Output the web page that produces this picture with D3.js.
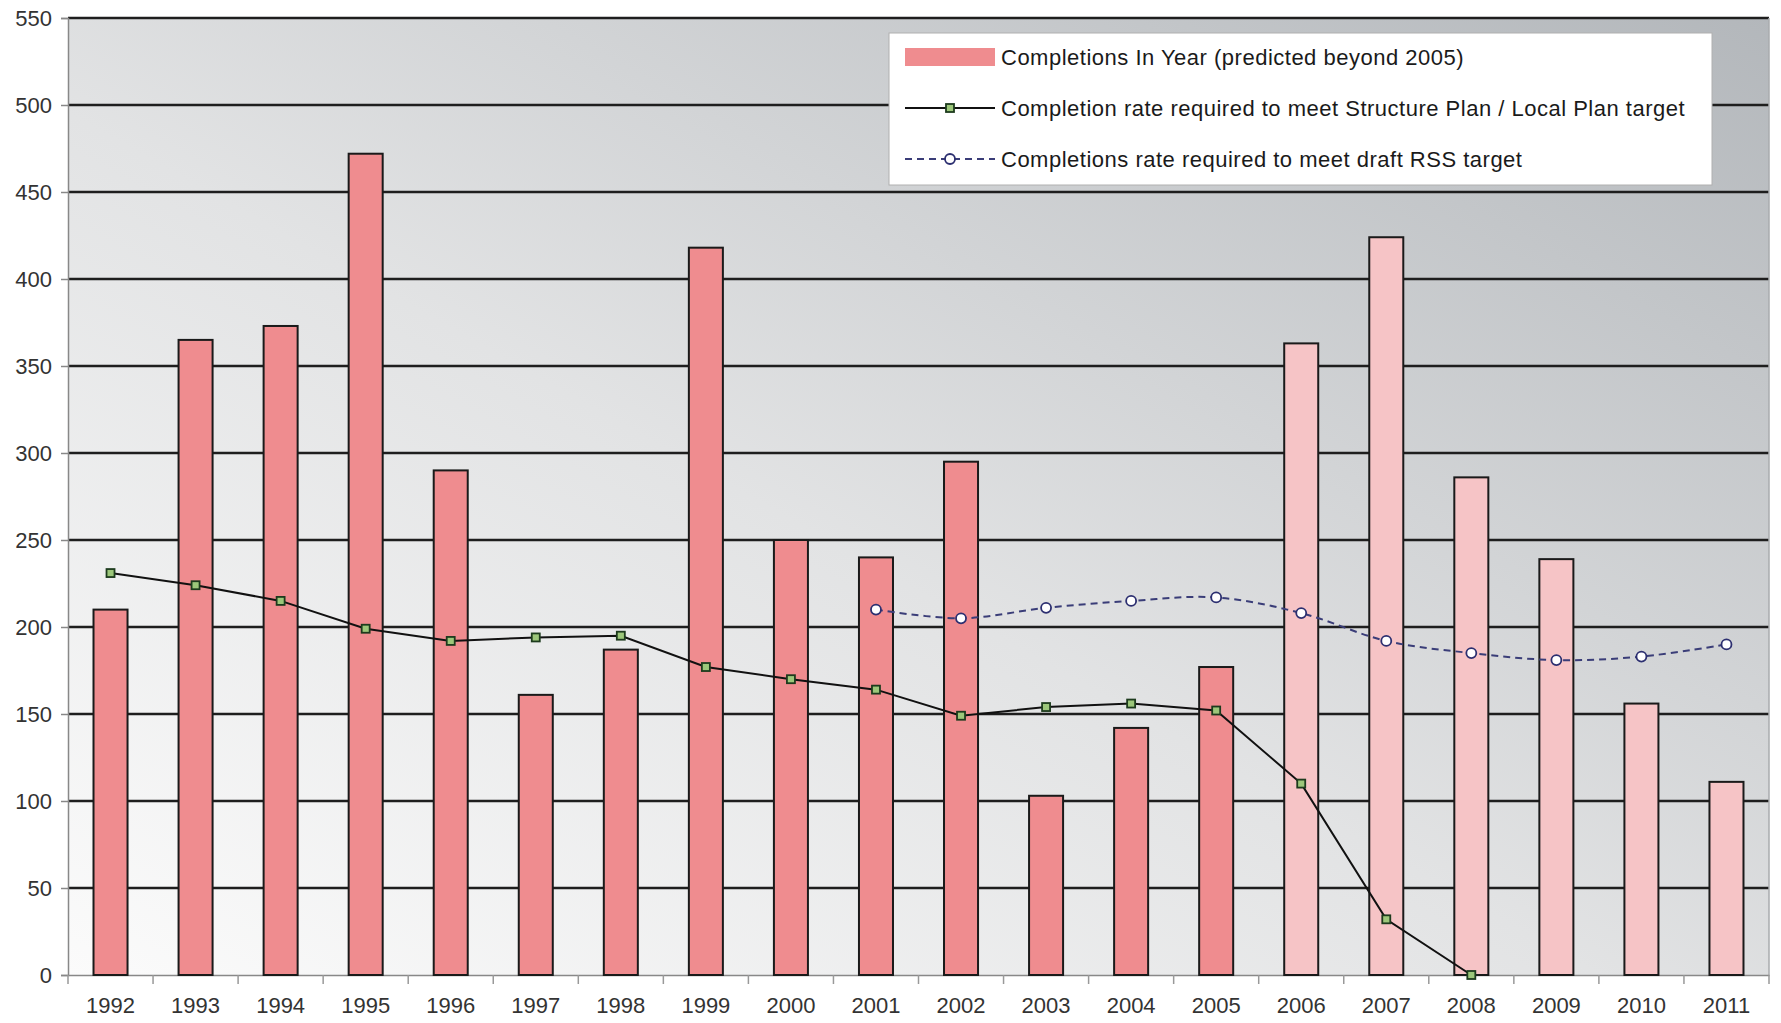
<!DOCTYPE html>
<html>
<head>
<meta charset="utf-8">
<script src="https://cdn.jsdelivr.net/npm/d3@7"></script>
<style>
  body { margin: 0; background: #ffffff; }
  text { font-family: "Liberation Sans", Arial, sans-serif; }
</style>
</head>
<body>
<div id="chart"></div>
<script>
// years on the x axis
let years = ["1992", "1993", "1994", "1995", "1996", "1997", "1998", "1999", "2000", "2001",
  "2002", "2003", "2004", "2005", "2006", "2007", "2008", "2009", "2010", "2011"];

// completions in year (predicted beyond 2005)
let completions = [210, 365, 373, 472, 290, 161, 187, 418, 250, 240,
  295, 103, 142, 177, 363, 424, 286, 239, 156, 111];

// completion rate required to meet structure plan / local plan target
let planYears = ["1992", "1993", "1994", "1995", "1996", "1997", "1998", "1999", "2000",
  "2001", "2002", "2003", "2004", "2005", "2006", "2007", "2008"];
let planRate = [231, 224, 215, 199, 192, 194, 195, 177, 170, 164, 149, 154, 156, 152, 110, 32, 0];

// completions rate required to meet draft rss target
let rssYears = ["2001", "2002", "2003", "2004", "2005", "2006", "2007", "2008", "2009", "2010", "2011"];
let rssRate = [210, 205, 211, 215, 217, 208, 192, 185, 181, 183, 190];

let yTicks = [0, 50, 100, 150, 200, 250, 300, 350, 400, 450, 500, 550];

let legendLabels = [
  "Completions In Year (predicted beyond 2005)",
  "Completion rate required to meet Structure Plan / Local Plan target",
  "Completions rate required to meet draft RSS target"
];

// chart dimensions
let svgWidth = 1781;
let svgHeight = 1023;
let margin = { top: 18, right: 12, bottom: 48, left: 68 };
let chartWidth = svgWidth - margin.left - margin.right;
let chartHeight = svgHeight - margin.top - margin.bottom;

let xScale = d3.scaleBand()
  .domain(years)
  .range([0, chartWidth])
  .paddingInner(0.6)
  .paddingOuter(0.3);

let xBand = d3.scaleBand()
  .domain(years)
  .range([0, chartWidth]);

let yScale = d3.scaleLinear()
  .domain([0, 550])
  .range([chartHeight, 0]);

let svg = d3.select("#chart").append("svg")
  .attr("width", svgWidth)
  .attr("height", svgHeight);

// background gradient
let defs = svg.append("defs");
let grad = defs.append("linearGradient")
  .attr("id", "bg")
  .attr("x1", 0).attr("y1", 1)
  .attr("x2", 1).attr("y2", 0);
grad.append("stop").attr("offset", "0%").attr("stop-color", "#fbfbfb");
grad.append("stop").attr("offset", "45%").attr("stop-color", "#e2e3e4");
grad.append("stop").attr("offset", "100%").attr("stop-color", "#b3b7bb");

let chartGroup = svg.append("g")
  .attr("transform", "translate(" + margin.left + "," + margin.top + ")");

chartGroup.append("rect")
  .attr("width", chartWidth)
  .attr("height", chartHeight)
  .attr("fill", "url(#bg)");

// gridlines
chartGroup.selectAll("line.grid")
  .data(yTicks.filter(function(d) { return d > 0; }))
  .enter()
  .append("line")
  .attr("class", "grid")
  .attr("x1", 0)
  .attr("x2", chartWidth)
  .attr("y1", function(d) { return yScale(d); })
  .attr("y2", function(d) { return yScale(d); })
  .attr("stroke", "#1e1e1e")
  .attr("stroke-width", 2.4);

// right edge of the plot
chartGroup.append("line")
  .attr("x1", chartWidth).attr("x2", chartWidth)
  .attr("y1", 0).attr("y2", chartHeight)
  .attr("stroke", "#a8abae")
  .attr("stroke-width", 1.5);

// y axis
let yAxis = chartGroup.append("g")
  .call(d3.axisLeft(yScale).tickValues(yTicks).tickSize(7).tickPadding(9));
yAxis.select(".domain").attr("stroke", "#888888").attr("stroke-width", 1.5);
yAxis.selectAll(".tick line").attr("stroke", "#888888").attr("stroke-width", 1.5);
yAxis.selectAll("text")
  .style("font-size", "22px")
  .attr("fill", "#333333");

// x axis with ticks between categories
let xAxis = chartGroup.append("g")
  .attr("transform", "translate(0," + chartHeight + ")")
  .call(d3.axisBottom(xBand).tickSize(0).tickPadding(22));
xAxis.select(".domain").attr("stroke", "#888888").attr("stroke-width", 1.5);
xAxis.selectAll("text")
  .style("font-size", "22px")
  .attr("fill", "#333333");

chartGroup.selectAll("line.xtick")
  .data(years.concat(["end"]))
  .enter()
  .append("line")
  .attr("class", "xtick")
  .attr("x1", function(d, i) { return i * xBand.step(); })
  .attr("x2", function(d, i) { return i * xBand.step(); })
  .attr("y1", chartHeight)
  .attr("y2", chartHeight + 9)
  .attr("stroke", "#999999")
  .attr("stroke-width", 1.5);

// bars
chartGroup.selectAll("rect.bar")
  .data(completions)
  .enter()
  .append("rect")
  .attr("class", "bar")
  .attr("x", function(d, i) { return xScale(years[i]); })
  .attr("y", function(d) { return yScale(d); })
  .attr("width", xScale.bandwidth())
  .attr("height", function(d) { return chartHeight - yScale(d); })
  .attr("fill", function(d, i) { return +years[i] > 2005 ? "#f6c4c6" : "#ef8c8f"; })
  .attr("stroke", "#1a1a1a")
  .attr("stroke-width", 2);

// plan line
let planData = planRate.map(function(v, i) { return { year: planYears[i], value: v }; });
let planLine = d3.line()
  .x(function(d) { return xBand(d.year) + xBand.bandwidth() / 2; })
  .y(function(d) { return yScale(d.value); });

chartGroup.append("path")
  .datum(planData)
  .attr("d", planLine)
  .attr("fill", "none")
  .attr("stroke", "#111111")
  .attr("stroke-width", 2);

chartGroup.selectAll("rect.planpt")
  .data(planData)
  .enter()
  .append("rect")
  .attr("class", "planpt")
  .attr("x", function(d) { return xBand(d.year) + xBand.bandwidth() / 2 - 4; })
  .attr("y", function(d) { return yScale(d.value) - 4; })
  .attr("width", 8)
  .attr("height", 8)
  .attr("fill", "#9cc77a")
  .attr("stroke", "#1d3b1d")
  .attr("stroke-width", 1.8);

// rss line
let rssData = rssRate.map(function(v, i) { return { year: rssYears[i], value: v }; });
let rssLine = d3.line()
  .curve(d3.curveCatmullRom)
  .x(function(d) { return xBand(d.year) + xBand.bandwidth() / 2; })
  .y(function(d) { return yScale(d.value); });

chartGroup.append("path")
  .datum(rssData)
  .attr("d", rssLine)
  .attr("fill", "none")
  .attr("stroke", "#3a3d78")
  .attr("stroke-width", 2)
  .attr("stroke-dasharray", "7,5");

chartGroup.selectAll("circle.rsspt")
  .data(rssData)
  .enter()
  .append("circle")
  .attr("class", "rsspt")
  .attr("cx", function(d) { return xBand(d.year) + xBand.bandwidth() / 2; })
  .attr("cy", function(d) { return yScale(d.value); })
  .attr("r", 5)
  .attr("fill", "#ffffff")
  .attr("stroke", "#2c2f70")
  .attr("stroke-width", 1.8);

// legend
let legend = svg.append("g")
  .attr("transform", "translate(889,33)");

legend.append("rect")
  .attr("width", 823)
  .attr("height", 152)
  .attr("fill", "#ffffff")
  .attr("stroke", "#b0b0b0")
  .attr("stroke-width", 1);

legend.append("rect")
  .attr("x", 16).attr("y", 15)
  .attr("width", 90).attr("height", 18)
  .attr("fill", "#ef8c8f");

legend.append("line")
  .attr("x1", 16).attr("x2", 106)
  .attr("y1", 75).attr("y2", 75)
  .attr("stroke", "#111111").attr("stroke-width", 2);
legend.append("rect")
  .attr("x", 57).attr("y", 71).attr("width", 8).attr("height", 8)
  .attr("fill", "#9cc77a").attr("stroke", "#1d3b1d").attr("stroke-width", 1.8);

legend.append("line")
  .attr("x1", 16).attr("x2", 106)
  .attr("y1", 126).attr("y2", 126)
  .attr("stroke", "#3a3d78").attr("stroke-width", 2)
  .attr("stroke-dasharray", "7,5");
legend.append("circle")
  .attr("cx", 61).attr("cy", 126).attr("r", 5)
  .attr("fill", "#ffffff").attr("stroke", "#2c2f70").attr("stroke-width", 1.8);

legend.selectAll("text")
  .data(legendLabels)
  .enter()
  .append("text")
  .text(function(d) { return d; })
  .attr("x", 112)
  .attr("y", function(d, i) { return 24 + i * 51; })
  .attr("dy", "0.35em")
  .attr("fill", "#1a1a1a")
  .style("font-size", "22px")
  .style("letter-spacing", "0.5px");
</script>
</body>
</html>
